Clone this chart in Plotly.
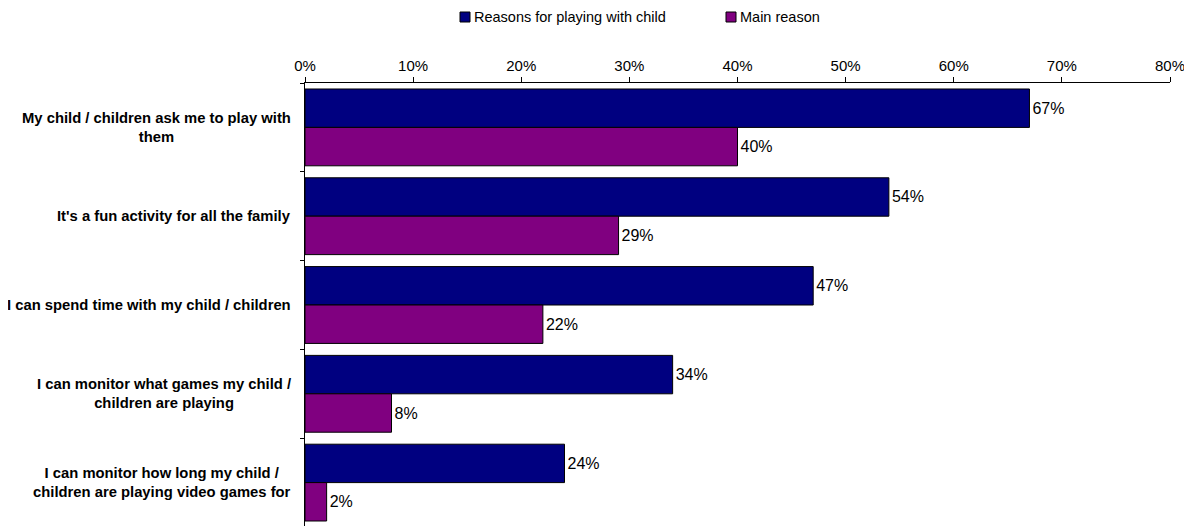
import plotly.graph_objects as go

categories = [
    "My child / children ask me to play with<br>them",
    "It's a fun activity for all the family",
    "I can spend time with my child / children",
    "I can monitor what games my child /<br>children are playing",
    "I can monitor how long my child /<br>children are playing video games for",
]
reasons = [67, 54, 47, 34, 24]
main_reason = [40, 29, 22, 8, 2]
series_names = ["Reasons for playing with child", "Main reason"]
series_colors = ["#000080", "#800080"]
tick_vals = [0, 10, 20, 30, 40, 50, 60, 70, 80]
tick_text = [f"{v}%" for v in tick_vals]

W, H = 1192, 526
L, R, T, B = 297, 30, 75, 7
PW, PH = W - L - R, H - T - B
OFF = 8  # page body margin


def px_x(sx):
    return (sx - OFF - L) / PW


def px_y(sy):
    return (H - B - (sy - OFF)) / PH


FONT = "Liberation Sans, Arial, sans-serif"

fig = go.Figure()
for name, vals, color in zip(series_names, [reasons, main_reason], series_colors):
    fig.add_trace(go.Bar(
        y=categories, x=vals, name=name, orientation="h",
        marker=dict(color=color, line=dict(color="black", width=1)),
        text=[f"{v}%" for v in vals], textposition="outside",
        textfont=dict(family=FONT, size=16, color="black"),
        cliponaxis=False, showlegend=False,
    ))

for cat in categories:
    fig.add_annotation(
        x=0, xref="paper", xshift=-12, xanchor="right",
        y=cat, yref="y", yanchor="middle",
        text=f"<b>{cat}</b>", showarrow=False, align="center",
        font=dict(family=FONT, size=14.8, color="black"),
    )

# custom legend
legend_pos = [(460, 726), ]
for name, color, sx in zip(series_names, series_colors, [460, 726]):
    fig.add_shape(type="rect", xref="paper", yref="paper",
                  x0=px_x(sx), x1=px_x(sx + 10), y0=px_y(22), y1=px_y(12),
                  fillcolor=color, line=dict(color="black", width=1))
    fig.add_annotation(x=px_x(sx + 12), y=px_y(17), xref="paper", yref="paper",
                       xanchor="left", yanchor="middle", showarrow=False,
                       text=name, font=dict(family=FONT, size=14.5, color="black"))

fig.update_layout(
    width=W, height=H,
    margin=dict(l=L, r=R, t=T, b=B),
    paper_bgcolor="white", plot_bgcolor="white",
    barmode="group", bargap=0.135, bargroupgap=0,
    font=dict(family=FONT, size=15, color="black"),
    showlegend=False,
    xaxis=dict(side="top", range=[0, 80], tickvals=tick_vals, ticktext=tick_text,
               showline=True, linecolor="black", linewidth=1,
               ticks="outside", ticklen=5, tickcolor="black",
               tickfont=dict(size=15),
               showgrid=False, zeroline=False, fixedrange=True),
    yaxis=dict(autorange="reversed", showticklabels=False,
               showline=True, linecolor="black", linewidth=1,
               ticks="outside", ticklen=4, tickcolor="black",
               tickson="boundaries", showgrid=False),
)

fig.write_html("out.html")
